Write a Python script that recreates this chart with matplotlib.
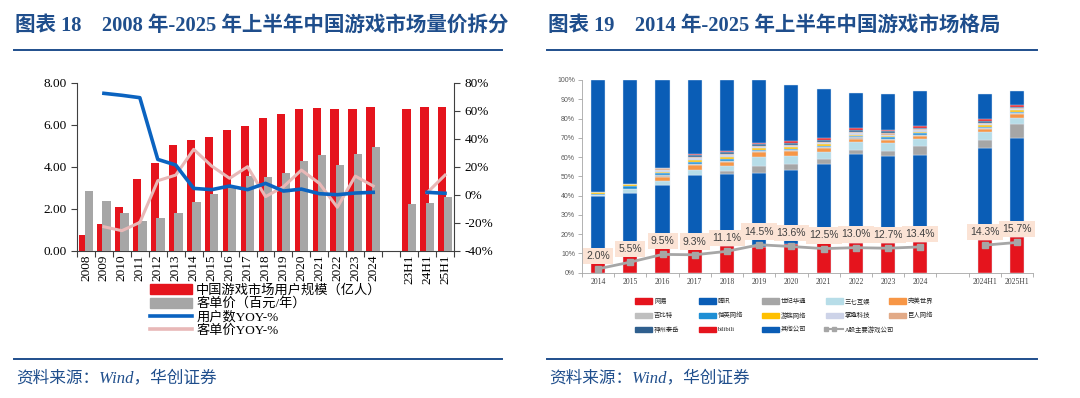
import numpy as np
import matplotlib
matplotlib.use('Agg')
import matplotlib.pyplot as plt
from matplotlib.patches import Patch, Rectangle
from matplotlib.lines import Line2D

plt.rcParams['font.family'] = ['Liberation Serif', 'Noto Sans CJK SC']

##################################################
# Data (left): game market volume / price split
##################################################
years_l = ['2008', '2009', '2010', '2011', '2012', '2013', '2014', '2015', '2016',
           '2017', '2018', '2019', '2020', '2021', '2022', '2023', '2024']
halves_l = ['23H1', '24H1', '25H1']

users_y = [0.75, 1.25, 2.06, 3.40, 4.19, 5.03, 5.25, 5.43, 5.75, 5.92, 6.33, 6.49,
           6.73, 6.78, 6.73, 6.76, 6.83]
users_h = [6.76, 6.83, 6.86]
arpu_y = [2.86, 2.37, 1.78, 1.41, 1.56, 1.78, 2.30, 2.71, 3.00, 3.56, 3.52, 3.68,
          4.27, 4.54, 4.08, 4.60, 4.92]
arpu_h = [2.22, 2.25, 2.54]
nan = np.nan
user_yoy_y = [nan, 72.4, 71.0, 69.3, 25.2, 21.2, 4.5, 3.6, 6.2, 3.6, 8.1, 2.6,
              4.0, 0.7, 0.0, 1.2, 1.7]
user_yoy_h = [nan, 1.7, 1.0]
arpu_yoy_y = [nan, -22.9, -25.7, -19.8, 10.0, 14.0, 32.4, 20.5, 11.7, 20.0, -1.4,
              5.7, 17.6, 8.1, -9.0, 13.3, 6.2]
arpu_yoy_h = [nan, 1.4, 14.0]

##################################################
# Data (right): market share by company (%)
##################################################
years_r = ['2014', '2015', '2016', '2017', '2018', '2019', '2020', '2021', '2022',
           '2023', '2024']
halves_r = ['2024H1', '2025H1']
companies = ['网易', '腾讯', '世纪华通', '三七互娱', '完美世界', '吉比特', '恺英网络',
             '游族网络', '掌趣科技', '巨人网络', '神州泰岳', 'bilibili', '其他公司']
share = {
    '网易':     [7.0, 10.0, 13.0, 12.5, 14.0, 13.5, 14.7, 15.2, 15.6, 15.3, 16.1, 16.8, 18.3],
    '腾讯':     [32.8, 31.2, 32.5, 38.2, 37.2, 38.1, 38.6, 41.0, 45.8, 45.3, 45.0, 47.7, 51.8],
    '世纪华通': [0.0, 0.0, 0.0, 0.0, 1.7, 4.0, 3.1, 2.6, 2.2, 2.8, 4.7, 4.3, 6.9],
    '三七互娱': [0.7, 2.2, 2.2, 2.6, 2.4, 4.2, 4.2, 4.0, 4.2, 3.8, 3.6, 4.0, 3.5],
    '完美世界': [0.0, 0.0, 2.1, 2.6, 2.2, 2.6, 2.4, 1.7, 1.7, 1.7, 1.6, 1.6, 1.6],
    '吉比特':   [0.0, 0.0, 0.7, 0.6, 0.7, 0.7, 0.7, 0.7, 0.7, 0.7, 0.7, 0.7, 0.7],
    '恺英网络': [0.5, 1.5, 1.0, 0.7, 0.9, 0.7, 0.7, 0.7, 0.7, 0.7, 0.7, 0.7, 0.7],
    '游族网络': [0.7, 1.1, 0.7, 1.5, 0.9, 0.7, 0.7, 0.7, 0.7, 0.7, 0.7, 0.7, 0.7],
    '掌趣科技': [0.0, 0.0, 1.0, 0.9, 0.9, 0.7, 0.7, 0.7, 0.7, 0.7, 0.7, 0.7, 0.7],
    '巨人网络': [0.0, 0.0, 1.2, 0.7, 0.7, 0.7, 0.7, 0.7, 0.7, 0.7, 0.7, 0.7, 0.5],
    '神州泰岳': [0.0, 0.0, 0.0, 0.7, 0.9, 0.7, 0.7, 0.7, 0.9, 1.0, 0.7, 1.0, 0.7],
    'bilibili': [0.0, 0.0, 0.0, 0.5, 0.7, 0.9, 0.9, 1.0, 1.0, 0.7, 0.7, 0.9, 1.0],
    '其他公司': [58.3, 54.0, 45.6, 38.5, 36.8, 32.7, 29.4, 25.6, 18.2, 18.6, 18.3, 12.8, 7.4],
}
a_share = [2.0, 5.5, 9.5, 9.3, 11.1, 14.5, 13.6, 12.5, 13.0, 12.7, 13.4]
a_share_h = [14.3, 15.7]

colors = {
    '网易': '#E5141D', '腾讯': '#0A5DB6', '世纪华通': '#A6A6A6', '三七互娱': '#B7DDE8',
    '完美世界': '#F79646', '吉比特': '#BFBFBF', '恺英网络': '#1E8FD5', '游族网络': '#FFC000',
    '掌趣科技': '#CDD3E8', '巨人网络': '#E2AA87', '神州泰岳': '#2F5F8E',
    'bilibili': '#E5141D', '其他公司': '#0A5DB6',
}
navy = '#1F4E8C'
W, H = 1080, 398

fig = plt.figure(figsize=(W / 100, H / 100), dpi=100)


def px(x, y):
    return x / W, 1 - y / H


##################################################
# Titles / rules / source
##################################################
for x0, x1, title in [(14, 502, '图表 18    2008 年-2025 年上半年中国游戏市场量价拆分'),
                      (547, 1037, '图表 19    2014 年-2025 年上半年中国游戏市场格局')]:
    fig.text(*px(x0 + 1, 26), title, fontsize=14.8, fontweight='bold', color=navy,
             va='center', ha='left')
    for yy in (50, 359):
        fig.add_artist(Line2D([x0 / W, x1 / W], [1 - yy / H] * 2, color=navy, lw=1.4))
    fig.text(*px(x0 + 2, 378), '资料来源：Wind，华创证券', fontsize=12, style='italic',
             color=navy, va='center', ha='left')

##################################################
# Left chart
##################################################
xl_y = np.arange(len(years_l))
xl_h = len(years_l) + 1 + np.arange(len(halves_l))
n_l = len(years_l) + 1 + len(halves_l)

l0, t0 = px(77, 82.7)
l1, b0 = px(454, 250.7)
ax = fig.add_axes([l0, b0, l1 - l0, t0 - b0])
red, grey = '#E5141D', '#A6A6A6'
bw = 0.46
for xs, u, a in [(xl_y, users_y, arpu_y), (xl_h, users_h, arpu_h)]:
    ax.bar(xs - 0.15, u, bw, color=red, zorder=2)
    ax.bar(xs + 0.15, a, bw, color=grey, zorder=3)
ax.set_xlim(-0.5, n_l - 0.5)
ax.set_ylim(0, 8)
ax.set_yticks([0, 2, 4, 6, 8])
ax.set_yticklabels(['%.2f' % v for v in [0, 2, 4, 6, 8]], fontsize=9.5)
ax.set_xticks(np.arange(-0.5, n_l, 1.0))
ax.set_xticklabels([])
ax.set_xticks(np.concatenate([xl_y, xl_h]), minor=True)
ax.set_xticklabels(years_l + halves_l, minor=True, rotation=90, fontsize=9.5)
ax.tick_params(axis='x', which='minor', length=0, pad=3)
ax.tick_params(axis='x', which='major', length=4, color='#404040')
ax.tick_params(axis='y', length=4, color='#404040')
for s in ['top', 'right']:
    ax.spines[s].set_visible(False)
for s in ['left', 'bottom']:
    ax.spines[s].set_color('#404040')

ax2 = ax.twinx()
ax2.set_ylim(-40, 80)
ax2.set_yticks(np.arange(-40, 81, 20))
ax2.set_yticklabels(['%d%%' % v for v in np.arange(-40, 81, 20)], fontsize=9.5)
ax2.tick_params(axis='y', length=4, color='#404040')
for s in ['top', 'left', 'bottom']:
    ax2.spines[s].set_visible(False)
ax2.spines['right'].set_color('#404040')
blue, pink = '#0B63C0', '#E8B8B7'
for xs, v in [(xl_y, arpu_yoy_y), (xl_h, arpu_yoy_h)]:
    ax2.plot(xs, v, color=pink, lw=2.2, zorder=4)
for xs, v in [(xl_y, user_yoy_y), (xl_h, user_yoy_h)]:
    ax2.plot(xs, v, color=blue, lw=2.6, zorder=5)

hl = [Patch(color=red), Patch(color=grey),
      Line2D([], [], color=blue, lw=2.6), Line2D([], [], color=pink, lw=2.6)]
fig.legend(hl, ['中国游戏市场用户规模（亿人）', '客单价（百元/年）', '用户数YOY-%', '客单价YOY-%'],
           loc='upper left', bbox_to_anchor=px(150, 284), frameon=False, fontsize=9.5,
           handlelength=3.2, handleheight=0.8, labelspacing=0.05, handletextpad=0.3,
           borderpad=0, borderaxespad=0)

##################################################
# Right chart
##################################################
xr_y = np.arange(len(years_r))
xr_h = len(years_r) + 1 + np.arange(len(halves_r))
xr = np.concatenate([xr_y, xr_h])
n_r = len(years_r) + 1 + len(halves_r)

l0, t0 = px(582, 80)
l1, b0 = px(1033, 272.7)
axr = fig.add_axes([l0, b0, l1 - l0, t0 - b0])
bottom = np.zeros(len(xr))
for c in companies:
    vals = np.array(share[c])
    axr.bar(xr, vals, 0.44, bottom=bottom, color=colors[c], edgecolor='#DCE8F5',
            linewidth=0.3, zorder=2)
    bottom += vals

lc = '#A6A6A6'
for xs, v in [(xr_y, a_share), (xr_h, a_share_h)]:
    axr.plot(xs, v, color=lc, lw=2, marker='s', ms=4.5, zorder=4)
    for xx, vv in zip(xs, v):
        axr.annotate('%.1f%%' % vv, (xx, vv), xytext=(0, 9.5), textcoords='offset points',
                     ha='center', va='center', fontsize=7.5, color='#404040',
                     family=['Liberation Sans', 'DejaVu Sans'], zorder=5,
                     bbox=dict(boxstyle='square,pad=0.3', fc='#FBE3D5', ec='none'))

axr.set_xlim(-0.5, n_r - 0.5)
axr.set_ylim(0, 100)
axr.set_yticks(np.arange(0, 101, 10))
axr.set_yticklabels(['%d%%' % v for v in np.arange(0, 101, 10)], fontsize=5,
                    family=['Liberation Sans', 'DejaVu Sans'], color='#595959')
axr.set_xticks(np.arange(-0.5, n_r, 1.0))
axr.set_xticklabels([])
axr.set_xticks(xr, minor=True)
axr.set_xticklabels(years_r + halves_r, minor=True, fontsize=5.5, color='#404040')
axr.tick_params(axis='x', which='minor', length=0, pad=4)
axr.tick_params(axis='x', which='major', length=3, color='#A6A6A6', width=0.6)
axr.tick_params(axis='y', length=3, color='#A6A6A6', width=0.6, pad=2)
for s in ['top', 'right']:
    axr.spines[s].set_visible(False)
for s in ['left', 'bottom']:
    axr.spines[s].set_color('#A6A6A6')
    axr.spines[s].set_linewidth(0.6)

# legend, row by row in five equal columns
labels = companies + ['A股主要游戏公司']
for k, lab in enumerate(labels):
    r, c = divmod(k, 5)
    x = 635 + c * 63.5
    y = 301 + r * 14.2
    if lab in colors:
        fig.add_artist(Rectangle(px(x, y + 2.6), 17 / W, 5.2 / H, color=colors[lab],
                                 transform=fig.transFigure))
    else:
        fig.add_artist(Line2D([x / W, (x + 17) / W], [1 - y / H] * 2, color=lc, lw=1.5,
                              marker='s', ms=3, markevery=[0], transform=fig.transFigure))
        fig.add_artist(Line2D([(x + 8.5) / W], [1 - y / H], color=lc, marker='s', ms=3,
                              transform=fig.transFigure))
    fig.text(*px(x + 19, y), lab, fontsize=4.6, va='center', ha='left', color='#262626')

fig.savefig('out.png', dpi=100)
